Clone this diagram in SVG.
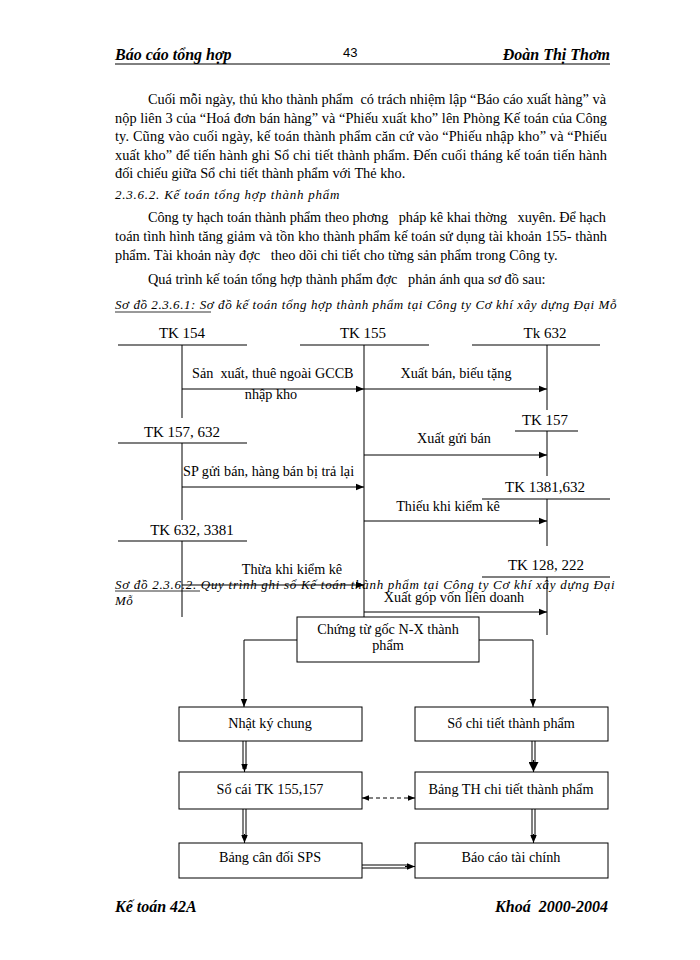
<svg xmlns="http://www.w3.org/2000/svg" width="700" height="960" viewBox="0 0 700 960">
<defs>
<marker id="ah" viewBox="0 0 10 10" refX="10" refY="5" markerWidth="8" markerHeight="8" markerUnits="userSpaceOnUse" orient="auto"><path d="M0,1 L10,5 L0,9 z" fill="#000"/></marker>
<marker id="ahs" viewBox="0 0 10 10" refX="10" refY="5" markerWidth="7" markerHeight="7" markerUnits="userSpaceOnUse" orient="auto-start-reverse"><path d="M0,1 L10,5 L0,9 z" fill="#000"/></marker>
<marker id="ahb" viewBox="0 0 10 10" refX="10" refY="5" markerWidth="10" markerHeight="10" markerUnits="userSpaceOnUse" orient="auto"><path d="M0,0 L10,5 L0,10 z" fill="#000"/></marker>
</defs>
<style>
.hdr{font-family:"Liberation Serif",serif;font-style:italic;font-weight:bold;font-size:16px;fill:#000}
.body{font-family:"Liberation Serif",serif;font-size:14.3px;fill:#000}
.it{font-family:"Liberation Serif",serif;font-style:italic;font-size:13px;fill:#000;letter-spacing:0.5px}
.tk{font-family:"Liberation Serif",serif;font-size:15px;fill:#000;text-anchor:middle}
.lbl{font-family:"Liberation Serif",serif;font-size:14.2px;fill:#000}
.lc{font-family:"Liberation Serif",serif;font-size:14.2px;fill:#000;text-anchor:middle}
.bx{fill:#fff;stroke:#000;stroke-width:1}
.bt{font-family:"Liberation Serif",serif;font-size:14.2px;fill:#000;text-anchor:middle}
.ln{stroke:#000;stroke-width:1;fill:none}
.tl{stroke:#555;stroke-width:1.5;fill:none}
</style>
<rect width="700" height="960" fill="#fff"/>
<!-- header -->
<text class="hdr" x="115" y="60">Báo cáo tổng hợp</text>
<text x="343" y="57" style="font-family:'Liberation Sans',sans-serif;font-size:13px">43</text>
<text class="hdr" x="610" y="60" text-anchor="end">Đoàn Thị Thơm</text>
<line x1="115" y1="64" x2="610" y2="64" stroke="#000" stroke-width="1"/>
<!-- body -->
<text class="body" x="148" y="104" textLength="458" lengthAdjust="spacing">Cuối mỗi ngày, thủ kho thành phẩm &#160;có trách nhiệm lập “Báo cáo xuất hàng” và</text>
<text class="body" x="115" y="122.5" textLength="492" lengthAdjust="spacing">nộp liên 3 của “Hoá đơn bán hàng” và “Phiếu xuất kho” lên Phòng Kế toán của Công</text>
<text class="body" x="115" y="141" textLength="492" lengthAdjust="spacing">ty. Cũng vào cuối ngày, kế toán thành phẩm căn cứ vào “Phiếu nhập kho” và “Phiếu</text>
<text class="body" x="115" y="159.5" textLength="492" lengthAdjust="spacing">xuất kho” để tiến hành ghi Sổ chi tiết thành phẩm. Đến cuối tháng kế toán tiến hành</text>
<text class="body" x="115" y="178">đối chiếu giữa Sổ chi tiết thành phẩm với Thẻ kho.</text>
<text class="it" x="115" y="199" textLength="225" lengthAdjust="spacing">2.3.6.2. Kế toán tổng hợp thành phẩm</text>
<text class="body" x="148" y="222" textLength="458" lengthAdjust="spacing">Công ty hạch toán thành phẩm theo phơng &#160; pháp kê khai thờng &#160; xuyên. Để hạch</text>
<text class="body" x="115" y="241" textLength="492" lengthAdjust="spacing">toán tình hình tăng giảm và tồn kho thành phẩm kế toán sử dụng tài khoản 155- thành</text>
<text class="body" x="115" y="260">phẩm. Tài khoản này đợc &#160; theo dõi chi tiết cho từng sản phẩm trong Công ty.</text>
<text class="body" x="148" y="284">Quá trình kế toán tổng hợp thành phẩm đợc &#160; phản ánh qua sơ đồ sau:</text>
<text class="it" x="115" y="309" textLength="502" lengthAdjust="spacing">Sơ đồ 2.3.6.1: Sơ đồ kế toán tổng hợp thành phẩm tại Công ty Cơ khí xây dựng Đại Mỗ</text>
<line x1="115" y1="312" x2="211" y2="312" stroke="#000" stroke-width="0.8"/>
<!-- T accounts -->
<g id="tk154"><text class="tk" x="182" y="338">TK 154</text><line class="tl" x1="118" y1="345" x2="247" y2="345"/><line class="ln" x1="182" y1="345" x2="182" y2="418"/></g>
<g id="tk155"><text class="tk" x="363" y="338">TK 155</text><line class="tl" x1="300" y1="345" x2="429" y2="345"/><line class="ln" x1="364" y1="345" x2="364" y2="617"/></g>
<g id="tk632"><text class="tk" x="545" y="338">Tk 632</text><line class="tl" x1="472" y1="345" x2="600" y2="345"/><line class="ln" x1="547" y1="345" x2="547" y2="410"/></g>
<g id="tk157"><text class="tk" x="545" y="425">TK 157</text><line class="tl" x1="515" y1="431" x2="578" y2="431"/><line class="ln" x1="547" y1="431" x2="547" y2="476"/></g>
<g id="tk157632"><text class="tk" x="182" y="437">TK 157, 632</text><line class="tl" x1="118" y1="443" x2="247" y2="443"/><line class="ln" x1="182" y1="443" x2="182" y2="520"/></g>
<g id="tk1381"><text class="tk" x="545" y="492">TK 1381,632</text><line class="tl" x1="482" y1="499" x2="610" y2="499"/><line class="ln" x1="547" y1="499" x2="547" y2="546"/></g>
<g id="tk6323381"><text class="tk" x="192" y="535">TK 632, 3381</text><line class="tl" x1="118" y1="541" x2="247" y2="541"/><line class="ln" x1="182" y1="541" x2="182" y2="617"/></g>
<g id="tk128"><text class="tk" x="546" y="570">TK 128, 222</text><line class="tl" x1="482" y1="577" x2="610" y2="577"/><line class="ln" x1="547" y1="577" x2="547" y2="635"/></g>
<!-- caption 2 -->
<text class="it" x="115" y="589" textLength="500" lengthAdjust="spacing">Sơ đồ 2.3.6.2. Quy trình ghi sổ Kế toán thành phẩm tại Công ty Cơ khí xây dựng Đại</text>
<line x1="115" y1="591" x2="200" y2="591" stroke="#000" stroke-width="0.8"/>
<text class="it" x="115" y="605">Mỗ</text>
<!-- connectors -->
<g id="connectors">
<line class="ln" x1="182" y1="389" x2="364" y2="389" marker-end="url(#ah)"/>
<line class="ln" x1="364" y1="389" x2="547" y2="389" marker-end="url(#ah)"/>
<line class="ln" x1="364" y1="455" x2="547" y2="455" marker-end="url(#ah)"/>
<line class="ln" x1="182" y1="487" x2="364" y2="487" marker-end="url(#ah)"/>
<line class="ln" x1="364" y1="521" x2="547" y2="521" marker-end="url(#ah)"/>
<line class="ln" x1="182" y1="585" x2="364" y2="585" marker-end="url(#ah)"/>
<line class="ln" x1="364" y1="612" x2="547" y2="612" marker-end="url(#ah)"/>
<polyline class="ln" points="297,640 244,640 244,707" marker-end="url(#ah)"/>
<polyline class="ln" points="479,640 533,640 533,707" marker-end="url(#ah)"/>
<g class="ln"><line x1="243" y1="741" x2="243" y2="769"/><line x1="246" y1="741" x2="246" y2="769"/></g>
<line class="ln" x1="244.5" y1="765" x2="244.5" y2="772" marker-end="url(#ah)"/>
<g class="ln"><line x1="532" y1="741" x2="532" y2="764"/><line x1="535" y1="741" x2="535" y2="764"/></g>
<line class="ln" x1="533.5" y1="760" x2="533.5" y2="772" marker-end="url(#ahb)"/>
<line class="ln" x1="362" y1="798" x2="415" y2="798" stroke-dasharray="4,3" marker-start="url(#ahs)" marker-end="url(#ahs)"/>
<g class="ln"><line x1="243" y1="809" x2="243" y2="838"/><line x1="246" y1="809" x2="246" y2="838"/></g>
<line class="ln" x1="244.5" y1="834" x2="244.5" y2="843" marker-end="url(#ah)"/>
<g class="ln"><line x1="532" y1="809" x2="532" y2="838"/><line x1="535" y1="809" x2="535" y2="838"/></g>
<line class="ln" x1="533.5" y1="834" x2="533.5" y2="843" marker-end="url(#ah)"/>
<g class="ln"><line x1="362" y1="865" x2="409" y2="865"/><line x1="362" y1="868" x2="409" y2="868"/></g>
<line class="ln" x1="405" y1="866.5" x2="415" y2="866.5" marker-end="url(#ah)"/>
</g>
<!-- arrow labels -->
<text class="lbl" x="192" y="378">Sản &#160;xuất, thuê ngoài GCCB</text>
<text class="lc" x="271" y="399">nhập kho</text>
<text class="lc" x="456" y="378">Xuất bán, biếu tặng</text>
<text class="lc" x="454" y="443">Xuất gửi bán</text>
<text class="lbl" x="183" y="476">SP gửi bán, hàng bán bị trả lại</text>
<text class="lc" x="448" y="511">Thiếu khi kiểm kê</text>
<text class="lc" x="292" y="574">Thừa khi kiểm kê</text>
<text class="lc" x="454" y="602">Xuất góp vốn liên doanh</text>
<!-- flow boxes -->
<g id="chungtu"><rect class="bx" x="297" y="617" width="182" height="45"/><text class="bt" x="388" y="634">Chứng từ gốc N-X thành</text><text class="bt" x="388" y="650">phẩm</text></g>
<g id="nhatky"><rect class="bx" x="179" y="707" width="183" height="34"/><text class="bt" x="270" y="728">Nhật ký chung</text></g>
<g id="sochitiet"><rect class="bx" x="415" y="707" width="193" height="34"/><text class="bt" x="511" y="728">Sổ chi tiết thành phẩm</text></g>
<g id="socai"><rect class="bx" x="179" y="772" width="183" height="37"/><text class="bt" x="270" y="794">Sổ cái TK 155,157</text></g>
<g id="bangth"><rect class="bx" x="415" y="772" width="193" height="37"/><text class="bt" x="511" y="794">Bảng TH chi tiết thành phẩm</text></g>
<g id="bangcandoi"><rect class="bx" x="179" y="843" width="183" height="35"/><text class="bt" x="270" y="862">Bảng cân đối SPS</text></g>
<g id="baocao"><rect class="bx" x="415" y="843" width="193" height="35"/><text class="bt" x="511" y="862">Báo cáo tài chính</text></g>
<!-- footer -->
<text class="hdr" x="115" y="912">Kế toán 42A</text>
<text class="hdr" x="608" y="912" text-anchor="end">Khoá &#160;2000-2004</text>
</svg>
